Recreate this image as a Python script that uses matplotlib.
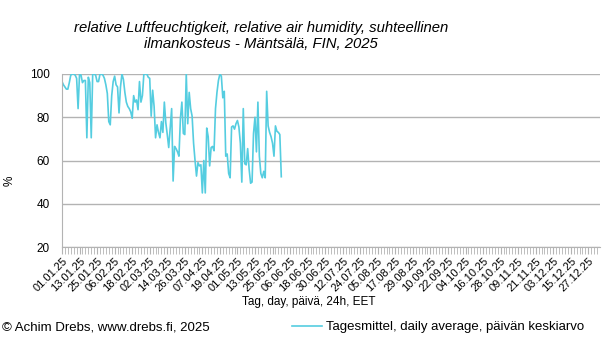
import numpy as np
import matplotlib as mplt
mplt.use("Agg")
import matplotlib.pyplot as plt

plt.rcParams["font.family"] = ["Liberation Sans", "DejaVu Sans"]

# daily mean relative humidity [%], 01.01.25 ...
humidity = [
    96.5, 95, 94, 93, 93, 96, 99.5, 100, 100, 99.5,
    98, 84, 100, 99.5, 96, 97, 97, 70.5, 98.5, 96,
    70.5, 100, 100, 99.5, 96.5, 96.5, 100, 100, 99.5, 98,
    95, 91, 78, 76.5, 90, 96.5, 99, 95, 94, 82,
    94, 100, 97.5, 91.5, 87, 85, 84, 82.5, 79.5, 90,
    87, 88, 83.5, 96.5, 87, 90, 100, 100, 100, 98.5,
    98, 80.5, 92.5, 85, 70.5, 76.5, 73, 70.5, 78, 73,
    87, 77.5, 72, 66, 75, 84, 50.5, 66.5, 65.5, 64,
    62, 79.5, 87, 72.5, 72, 100, 77, 91.5, 84, 80.5,
    68, 60, 52.8, 59, 57.5, 58, 45, 60, 45, 75,
    71, 57.5, 66, 66.5, 64.5, 84, 91.5, 97, 100, 99,
    89, 92, 62, 63, 54, 52, 75.5, 76, 74.5, 77,
    78.5, 75.5, 68, 50, 84, 58.5, 58, 65.5, 56, 49.5,
    50, 72.5, 80, 64, 87, 62, 54, 52, 55, 52,
    92, 76, 73, 71, 68, 62, 76, 73.5, 73, 72,
    52.5,
]
days = np.arange(len(humidity))

tick_days = np.arange(0, 361, 12)
tick_labels = [
    "01.01.25", "13.01.25", "25.01.25", "06.02.25", "18.02.25", "02.03.25",
    "14.03.25", "26.03.25", "07.04.25", "19.04.25", "01.05.25", "13.05.25",
    "25.05.25", "06.06.25", "18.06.25", "30.06.25", "12.07.25", "24.07.25",
    "05.08.25", "17.08.25", "29.08.25", "10.09.25", "22.09.25", "04.10.25",
    "16.10.25", "28.10.25", "09.11.25", "21.11.25", "03.12.25", "15.12.25",
    "27.12.25",
]

line_color = "#55cde0"
grid_color = "#b3b3b3"

fig = plt.figure(figsize=(6.05, 3.41), dpi=100)
ax = fig.add_axes([62 / 605, 1 - 247 / 341, 538 / 605, 173 / 341])

ax.plot(days, humidity, color=line_color, lw=1.2,
        label="Tagesmittel, daily average, päivän keskiarvo")

ax.set_xlim(0, 368)
ax.set_ylim(20, 100)
ax.set_yticks([20, 40, 60, 80, 100])
ax.yaxis.grid(True, color=grid_color, lw=1)
ax.set_axisbelow(True)

for side in ["top", "right"]:
    ax.spines[side].set_visible(False)
for side in ["left", "bottom"]:
    ax.spines[side].set_color(grid_color)

ax.set_xticks(tick_days)
ax.set_xticklabels(tick_labels, rotation=45, ha="right", rotation_mode="anchor",
                   fontsize=8)
ax.set_xticks(np.arange(0, 368, 2), minor=True)
ax.tick_params(axis="x", which="both", length=5, color=grid_color, pad=1.5)
ax.tick_params(axis="y", length=0, labelsize=8.5, pad=9)

# axis titles are placed by hand, they sit off-centre in the original
fig.text(309 / 605, 1 - 302 / 341, "Tag, day, päivä, 24h, EET",
         fontsize=8.5, ha="center", va="center")
fig.text(10 / 605, 1 - 181 / 341, "%", fontsize=8.5, rotation=90,
         ha="center", va="center")

fig.text(261 / 605, 1 - 36 / 341,
         "relative Luftfeuchtigkeit, relative air humidity, suhteellinen\n"
         "ilmankosteus - Mäntsälä, FIN, 2025",
         ha="center", va="center", fontsize=10.7, style="italic", linespacing=1.2)

fig.text(0.004, 1 - 327 / 341, "© Achim Drebs, www.drebs.fi, 2025",
         fontsize=9.5, va="center")
fig.legend(loc="center left", bbox_to_anchor=(292 / 605, 1 - 327 / 341),
           frameon=False, fontsize=9.5, handlelength=2.3, handletextpad=0.3,
           borderpad=0, borderaxespad=0)

fig.savefig("out.png", dpi=100)
